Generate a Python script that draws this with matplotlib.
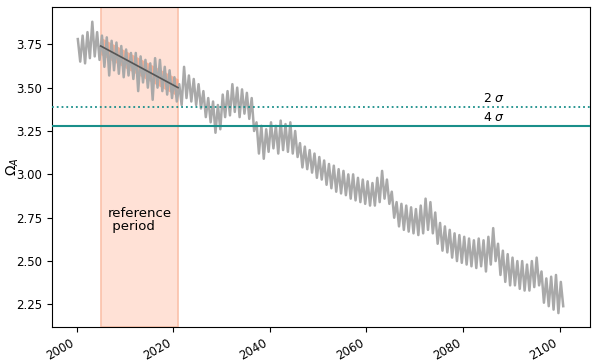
import numpy as np
import matplotlib
matplotlib.use("Agg")
import matplotlib.pyplot as plt

# Annual envelope of the Omega_A series (year: high, low)
years = list(range(2000, 2101))
annual_high = [3.78, 3.80, 3.82, 3.88, 3.82, 3.80, 3.79, 3.77, 3.76, 3.74,
               3.72, 3.70, 3.70, 3.68, 3.66, 3.64, 3.67, 3.66, 3.62, 3.60,
               3.56, 3.52, 3.62, 3.57, 3.55, 3.52, 3.48, 3.44, 3.42, 3.40,
               3.46, 3.48, 3.52, 3.50, 3.49, 3.47, 3.44, 3.30, 3.28, 3.26,
               3.30, 3.28, 3.31, 3.29, 3.30, 3.25, 3.18, 3.16, 3.14, 3.12,
               3.10, 3.08, 3.06, 3.05, 3.03, 3.02, 3.00, 3.00, 2.98, 2.97,
               2.96, 2.95, 2.98, 3.02, 2.97, 2.90, 2.84, 2.83, 2.82, 2.81,
               2.80, 2.82, 2.86, 2.84, 2.78, 2.72, 2.70, 2.68, 2.66, 2.65,
               2.64, 2.63, 2.62, 2.63, 2.62, 2.64, 2.69, 2.60, 2.56, 2.54,
               2.52, 2.50, 2.50, 2.48, 2.50, 2.52, 2.44, 2.40, 2.41, 2.42,
               2.38]
annual_low = [3.65, 3.64, 3.67, 3.68, 3.66, 3.62, 3.57, 3.60, 3.58, 3.56,
              3.57, 3.55, 3.48, 3.53, 3.50, 3.43, 3.50, 3.48, 3.46, 3.44,
              3.42, 3.40, 3.44, 3.42, 3.40, 3.38, 3.33, 3.30, 3.24, 3.26,
              3.33, 3.34, 3.36, 3.33, 3.35, 3.32, 3.25, 3.12, 3.09, 3.13,
              3.15, 3.12, 3.14, 3.13, 3.12, 3.10, 3.04, 3.03, 3.01, 2.98,
              2.97, 2.94, 2.92, 2.90, 2.89, 2.88, 2.86, 2.85, 2.84, 2.83,
              2.82, 2.82, 2.84, 2.86, 2.83, 2.75, 2.70, 2.68, 2.67, 2.66,
              2.65, 2.66, 2.68, 2.66, 2.60, 2.56, 2.55, 2.52, 2.50, 2.49,
              2.48, 2.47, 2.46, 2.47, 2.44, 2.48, 2.50, 2.42, 2.38, 2.36,
              2.36, 2.34, 2.33, 2.33, 2.35, 2.36, 2.26, 2.24, 2.22, 2.20,
              2.24]

# Reference period and its trend
ref_start, ref_end = 2005, 2021
trend_start_val, trend_end_val = 3.74, 3.50
trend_halfwidth = 0.05

# Thresholds
sigma2_level = 3.39
sigma4_level = 3.28
tick_years = [2000, 2020, 2040, 2060, 2080, 2100]
ytick_vals = [2.25, 2.50, 2.75, 3.00, 3.25, 3.50, 3.75]

# Interleave highs and lows into one series
t = []
v = []
for y, hi, lo in zip(years, annual_high, annual_low):
    t += [y + 0.25, y + 0.75]
    v += [hi, lo]

fig = plt.figure(figsize=(5.96, 3.62), dpi=100)
ax = fig.add_axes([0.0872, 0.0967, 0.9028, 0.884])

ax.axvspan(ref_start, ref_end, facecolor='#ffe1d6', edgecolor='#fbc1aa', lw=1.2, zorder=0)
ax.plot(t, v, color='#a9a9a9', lw=1.8, zorder=2)

tx = np.array([ref_start, ref_end], dtype=float)
ty = np.array([trend_start_val, trend_end_val])
ax.fill_between(tx, ty - trend_halfwidth, ty + trend_halfwidth, color='#fa9d7c', alpha=0.75, lw=0, zorder=1)
ax.plot(tx, ty, color='#555555', lw=1.2, zorder=3)

ax.axhline(sigma2_level, color='#1a8f8a', lw=1.3, ls=':', zorder=3)
ax.axhline(sigma4_level, color='#1a8f8a', lw=1.5, ls='-', zorder=3)

ax.text(2084.1, sigma2_level + 0.01, '2 $\\sigma$', fontsize=9, va='bottom', ha='left')
ax.text(2084.1, sigma4_level + 0.01, '4 $\\sigma$', fontsize=9, va='bottom', ha='left')
ax.text(2013.1, 2.734, 'reference\n period', fontsize=9.5, ha='center', va='center',
        multialignment='left', linespacing=1.0)

ax.set_xlim(1994.9, 2106.3)
ax.set_ylim(2.12, 3.965)
ax.set_xticks(tick_years)
ax.set_xticklabels([str(y) for y in tick_years], rotation=30, ha='right', fontsize=8.5)
ax.set_yticks(ytick_vals)
ax.set_yticklabels(['%.2f' % y for y in ytick_vals], fontsize=8.5)
ax.set_ylabel('$\\Omega_A$', fontsize=10)
ax.yaxis.set_label_coords(-0.058, 0.5)

fig.savefig('out.png', dpi=100)
